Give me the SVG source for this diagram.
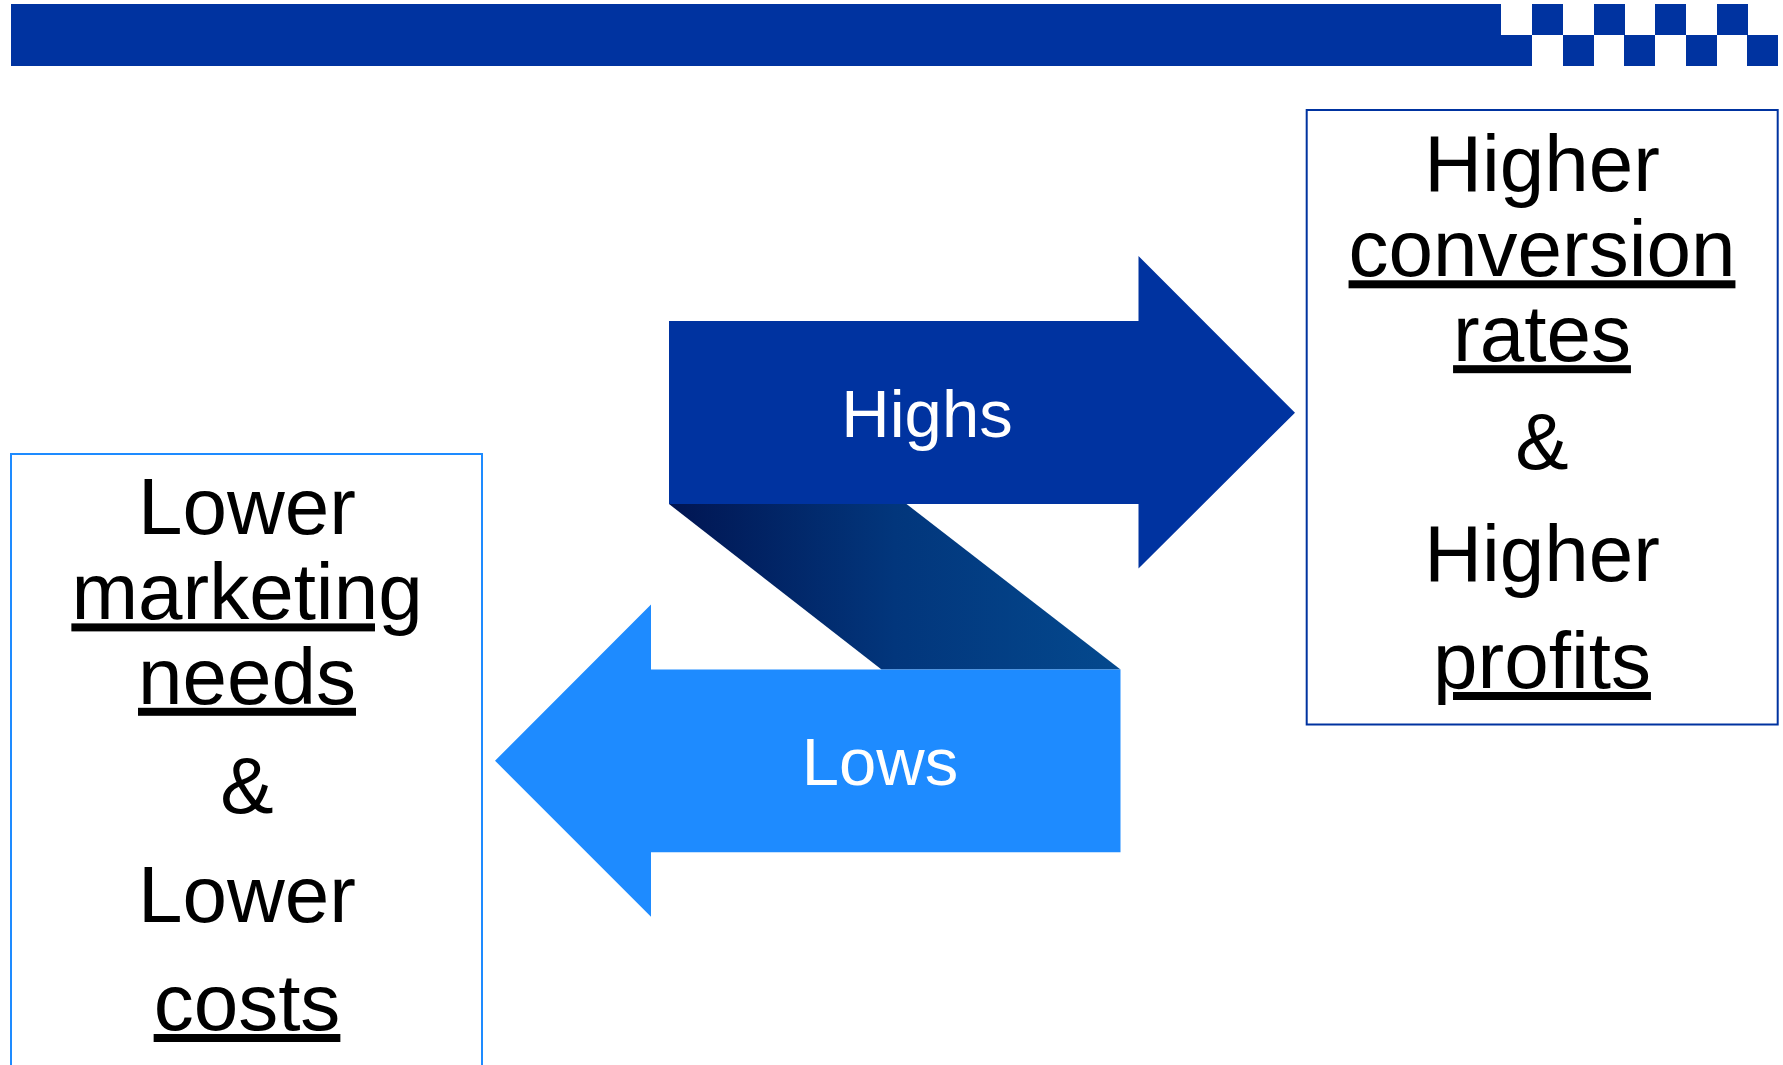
<svg xmlns="http://www.w3.org/2000/svg" width="1783" height="1065" viewBox="0 0 1783 1065">
<style>
.bar{fill:#0033A0}
.big{font-family:"Liberation Sans",Arial,sans-serif;font-size:80px;fill:#000;text-anchor:middle}
.u{text-decoration:underline;text-decoration-skip-ink:none}
.lbl{font-family:"Liberation Sans",Arial,sans-serif;font-size:67px;fill:#fff;text-anchor:middle}
</style>
<defs>
<linearGradient id="shade" x1="669" y1="0" x2="1120" y2="0" gradientUnits="userSpaceOnUse">
<stop offset="0" stop-color="#011552"/>
<stop offset="0.5" stop-color="#02367C"/>
<stop offset="1" stop-color="#04498E"/>
</linearGradient>
</defs>
<rect width="1783" height="1065" fill="#fff"/>
<g id="header">
<rect class="bar" x="11" y="4" width="1490" height="62"/>
<rect class="bar" x="1501" y="35" width="31" height="31"/>
<rect class="bar" x="1532" y="4" width="31" height="31"/>
<rect class="bar" x="1563" y="35" width="31" height="31"/>
<rect class="bar" x="1594" y="4" width="31" height="31"/>
<rect class="bar" x="1624" y="35" width="31" height="31"/>
<rect class="bar" x="1655" y="4" width="31" height="31"/>
<rect class="bar" x="1686" y="35" width="31" height="31"/>
<rect class="bar" x="1717" y="4" width="31" height="31"/>
<rect class="bar" x="1747" y="35" width="31" height="31"/>
</g>
<g id="connectors">
<polygon id="fold" points="669,504 906.5,504 1120.5,669.5 881.5,669.5" fill="url(#shade)"/>
<g id="highs">
<polygon points="669,321 1138.5,321 1138.5,256 1295,412.7 1138.5,568.5 1138.5,504 669,504" fill="#0033A0"/>
<text class="lbl" x="927" y="437">Highs</text>
</g>
<g id="lows">
<polygon points="1120.5,669.5 651,669.5 651,604.5 495,760.7 651,916.7 651,852.3 1120.5,852.3" fill="#1E8BFF"/>
<text class="lbl" x="880" y="785">Lows</text>
</g>
</g>
<g id="box-right">
<rect x="1306.7" y="110" width="471" height="614.5" fill="none" stroke="#0033A0" stroke-width="2"/>
<text class="big" x="1542" y="190.6">Higher</text>
<text class="big u" x="1542" y="276.3">conversion</text>
<text class="big u" x="1542" y="361.2">rates</text>
<text class="big" x="1542" y="469.4">&amp;</text>
<text class="big" x="1542" y="580.8">Higher</text>
<text class="big u" x="1542" y="688">profits</text>
</g>
<g id="box-left">
<rect x="11" y="454" width="471" height="620" fill="none" stroke="#1E8BFF" stroke-width="2"/>
<text class="big" x="247" y="533.7">Lower</text>
<text class="big u" x="247" y="619.4">marketing</text>
<text class="big u" x="247" y="703.8">needs</text>
<text class="big" x="247" y="812.7">&amp;</text>
<text class="big" x="247" y="922.3">Lower</text>
<text class="big u" x="247" y="1030">costs</text>
</g>
</svg>
